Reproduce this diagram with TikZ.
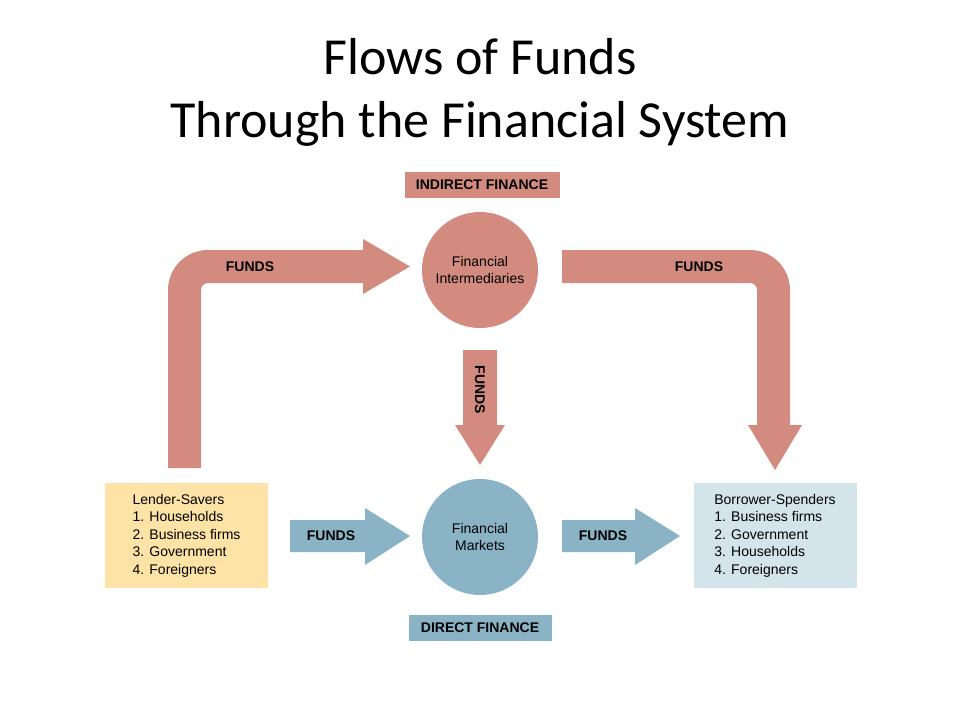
\documentclass[tikz,border=0pt]{standalone}
\usepackage{fontspec}
\setmainfont{Liberation Sans}
\newfontfamily\titlefont{Carlito}
\definecolor{indred}{HTML}{D28B7E}
\definecolor{dirblue}{HTML}{8AB4C6}
\definecolor{lendyel}{HTML}{FDE3A6}
\definecolor{borrblue}{HTML}{D3E4EA}
\tikzset{
  bank/.style={circle, minimum size=116pt, inner sep=0pt, align=center, font=\fontsize{14}{17}\selectfont},
  group/.style={minimum width=163pt, minimum height=105pt, inner sep=0pt, align=left, font=\fontsize{14}{17.5}\selectfont},
  tag/.style={inner sep=0pt, font=\bfseries\fontsize{14}{16}\selectfont},
  flowlabel/.style={font=\bfseries\fontsize{14}{16}\selectfont}
}
\begin{document}
\begin{tikzpicture}[x=1pt,y=-1pt]
			\useasboundingbox (0,0) rectangle (960,720);

			\node (title) at (480,92) [align=center, font=\titlefont\fontsize{52}{63}\selectfont] {Flows of Funds\\Through the Financial System};

			% indirect route
			\fill [indred] (168,468) -- (168,290) arc (180:270:40) -- (363,250) -- (363,239) -- (410,266.5) -- (363,294) -- (363,283) -- (208,283) arc (270:180:7) -- (201,290) -- (201,468) -- cycle;
			\fill [indred] (562,250) -- (750,250) arc (270:360:40) -- (790,425) -- (802,425) -- (775,470) -- (748,425) -- (757,425) -- (757,290) arc (0:-90:7) -- (562,283) -- cycle;
			\fill [indred] (463,350) -- (497,350) -- (497,425) -- (505,425) -- (480,465) -- (455,425) -- (463,425) -- cycle;

			% direct route
			\fill [dirblue] (290,520) -- (365,520) -- (365,508) -- (410,536) -- (365,565) -- (365,552) -- (290,552) -- cycle;
			\fill [dirblue] (562,520) -- (635,520) -- (635,508) -- (680,536) -- (635,565) -- (635,552) -- (562,552) -- cycle;

			\node (fi) at (480,270) [bank, fill=indred] {Financial\\Intermediaries};
			\node (fm) at (480,537) [bank, fill=dirblue] {Financial\\Markets};
			\node (indirect) at (482,185) [tag, fill=indred, minimum width=155pt, minimum height=26pt] {INDIRECT FINANCE};
			\node (direct) at (480,628) [tag, fill=dirblue, minimum width=143pt, minimum height=26pt] {DIRECT FINANCE};

			\node (lender) at (186.5,535.5) [group, fill=lendyel] {Lender-Savers\\1. Households\\2. Business firms\\3. Government\\4. Foreigners};
			\node (borrower) at (775,535.5) [group, fill=borrblue] {Borrower-Spenders\\1. Business firms\\2. Government\\3. Households\\4. Foreigners};

			\node (f1) at (250,267) [flowlabel] {FUNDS};
			\node (f2) at (699,267) [flowlabel] {FUNDS};
			\node (f3) at (480,390) [flowlabel, rotate=-90] {FUNDS};
			\node (f4) at (331,536) [flowlabel] {FUNDS};
			\node (f5) at (603,536) [flowlabel] {FUNDS};
		\end{tikzpicture}
\end{document}
